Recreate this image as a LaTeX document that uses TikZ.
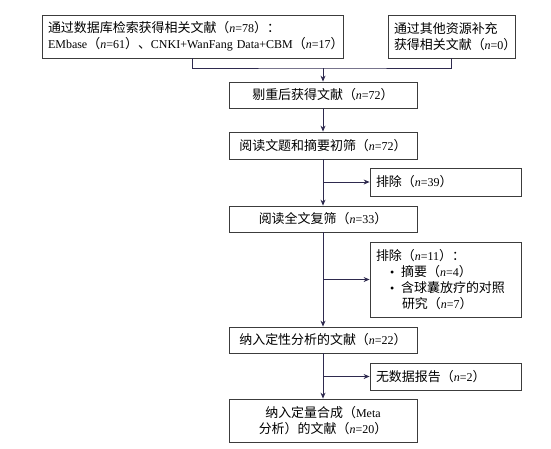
\documentclass[tikz,border=0pt]{standalone}
\usepackage{fontspec}
\setmainfont{Liberation Serif}
\newfontfamily\cjk[Scale=1.08]{Noto Sans CJK SC}
\usepackage{tikz}
\usetikzlibrary{arrows.meta,positioning,calc}

\newcommand{\zh}[1]{{\cjk #1}}
\newcommand{\cnt}[1]{\zh{（}\textit{n}=#1\zh{）}}
\definecolor{edge}{RGB}{60,60,60}
\definecolor{flow}{RGB}{46,42,78}

\begin{document}
\begin{tikzpicture}[x=1pt,y=-1pt,
  every node/.style={font=\fontsize{12}{16}\selectfont},
  box/.style={draw=edge, line width=0.8pt, inner xsep=6pt, inner ysep=2pt},
  mainbox/.style={box, minimum width=188pt, text width=176pt, align=center},
  exclbox/.style={box, minimum width=151pt, text width=139pt, align=left},
  flowline/.style={draw=flow, line width=0.8pt},
  arr/.style={flowline, -{Stealth[length=6pt,width=5pt]}}]
\useasboundingbox (0,0) rectangle (551,448);
\node[box, minimum width=301pt, text width=289pt, minimum height=43pt, align=left] (db) at (192.5,36.5)
  {\zh{通过数据库检索获得相关文献}\cnt{78}\zh{：}\\
   \mbox{EMbase\cnt{61}\zh{、}CNKI+WanFang Data+CBM\cnt{17}}};
\node[box, minimum width=127pt, text width=115pt, minimum height=43pt, align=left] (other) at (451.5,36.5)
  {\zh{通过其他资源补充}\\ \zh{获得相关文献}\cnt{0}};
\coordinate (merge) at (323,68);
\node[mainbox, minimum height=26pt] (dedup) at (323,95) {\zh{剔重后获得文献}\cnt{72}};
\node[mainbox, minimum height=27pt] (title) at (323,145.5) {\zh{阅读文题和摘要初筛}\cnt{72}};
\node[exclbox, minimum height=28pt] (exclA) at (445.5,182) {\zh{排除}\cnt{39}};
\node[mainbox, minimum height=26pt] (full) at (323,219) {\zh{阅读全文复筛}\cnt{33}};
\node[exclbox, minimum height=75pt] (exclB) at (445.5,279.5)
  {\zh{排除}\cnt{11}\zh{：}\\
   \hspace*{14pt}\textbullet\hspace{7pt}\zh{摘要}\cnt{4}\\
   \hspace*{14pt}\textbullet\hspace{7pt}\zh{含球囊放疗的对照}\\
   \hspace*{26pt}\zh{研究}\cnt{7}};
\node[mainbox, minimum height=26pt] (qual) at (323,340) {\zh{纳入定性分析的文献}\cnt{22}};
\node[exclbox, minimum height=27pt] (exclC) at (445.5,376.5) {\zh{无数据报告}\cnt{2}};
\node[mainbox, minimum height=43pt] (meta) at (323,420.5)
  {\zh{纳入定量合成（}Meta\\ \zh{分析）的文献}\cnt{20}};
\draw[flowline] (db.south) |- (merge) -| (other.south);
\draw[arr] (merge) -- (dedup.north);
\draw[arr] (dedup.south) -- (title.north);
\draw[arr] (title.south) -- (full.north);
\draw[arr] (title.south |- exclA.west) -- (exclA.west);
\draw[arr] (full.south) -- (qual.north);
\draw[arr] (full.south |- exclB.west) -- (exclB.west);
\draw[arr] (qual.south) -- (meta.north);
\draw[arr] (qual.south |- exclC.west) -- (exclC.west);
\end{tikzpicture}
\end{document}
